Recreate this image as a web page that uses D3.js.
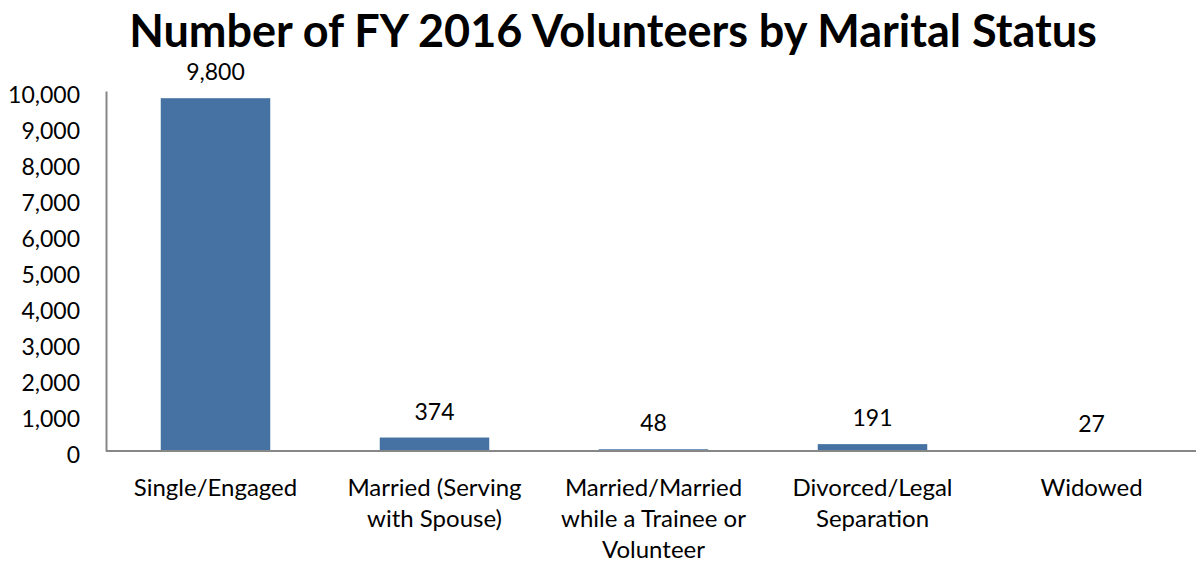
<!DOCTYPE html>
<html>
<head>
<meta charset="utf-8">
<script src="https://cdn.jsdelivr.net/npm/d3@7"></script>
<style>
  body { margin: 0; background: #fff; }
  text { font-family: Lato, "Open Sans", sans-serif; fill: #000; }
</style>
</head>
<body>
<svg id="chart" width="1196" height="562"></svg>
<script>
// Chart data
const categories = [
  ["Single/Engaged"],
  ["Married (Serving", "with Spouse)"],
  ["Married/Married", "while a Trainee or", "Volunteer"],
  ["Divorced/Legal", "Separation"],
  ["Widowed"]
];
const volunteers = [9800, 374, 48, 191, 27];
const yTicks = [0, 1000, 2000, 3000, 4000, 5000, 6000, 7000, 8000, 9000, 10000];

const svg = d3.select("#chart");
const plotLeft = 106, plotRight = 1201, plotTop = 91, plotBottom = 451;

const x = d3.scaleBand()
  .domain(d3.range(categories.length))
  .range([plotLeft, plotRight])
  .paddingInner(0.5)
  .paddingOuter(0.25);

const y = d3.scaleLinear().domain([0, 10000]).range([plotBottom, plotTop]);

// Title
svg.append("text")
  .attr("x", 613)
  .attr("y", 47)
  .attr("text-anchor", "middle")
  .style("font-size", "45px")
  .style("font-weight", "bold")
  .text("Number of FY 2016 Volunteers by Marital Status");

// Bars
svg.selectAll("rect.bar")
  .data(volunteers)
  .join("rect")
  .attr("class", "bar")
  .attr("x", (d, i) => x(i))
  .attr("y", d => y(d))
  .attr("width", x.bandwidth())
  .attr("height", d => plotBottom - y(d))
  .attr("fill", "#4672a3");

// Value labels
svg.selectAll("text.val")
  .data(volunteers)
  .join("text")
  .attr("class", "val")
  .attr("x", (d, i) => x(i) + x.bandwidth() / 2)
  .attr("y", d => y(d) - 18)
  .attr("text-anchor", "middle")
  .style("font-size", "23px")
  .text(d => d3.format(",")(d));

// Y axis
const yAxis = svg.append("g")
  .attr("transform", `translate(${plotLeft},0)`)
  .call(d3.axisLeft(y).tickValues(yTicks).tickSize(0).tickPadding(26).tickFormat(d3.format(",")));
yAxis.select(".domain").attr("stroke", "#878787").attr("stroke-width", 2);
yAxis.selectAll("text")
  .style("font-size", "23px")
  .style("font-family", "Lato, sans-serif")
  .attr("dy", "0.5em")
  .attr("fill", "#000");

// X baseline
svg.append("line")
  .attr("x1", plotLeft).attr("x2", plotRight)
  .attr("y1", plotBottom).attr("y2", plotBottom)
  .attr("stroke", "#878787")
  .attr("stroke-width", 2);

// Category labels
categories.forEach((lines, i) => {
  const t = svg.append("text")
    .attr("text-anchor", "middle")
    .style("font-size", "24px");
  lines.forEach((ln, j) => {
    t.append("tspan")
      .attr("x", x(i) + x.bandwidth() / 2)
      .attr("y", 496 + j * 31)
      .text(ln);
  });
});
</script>
</body>
</html>
